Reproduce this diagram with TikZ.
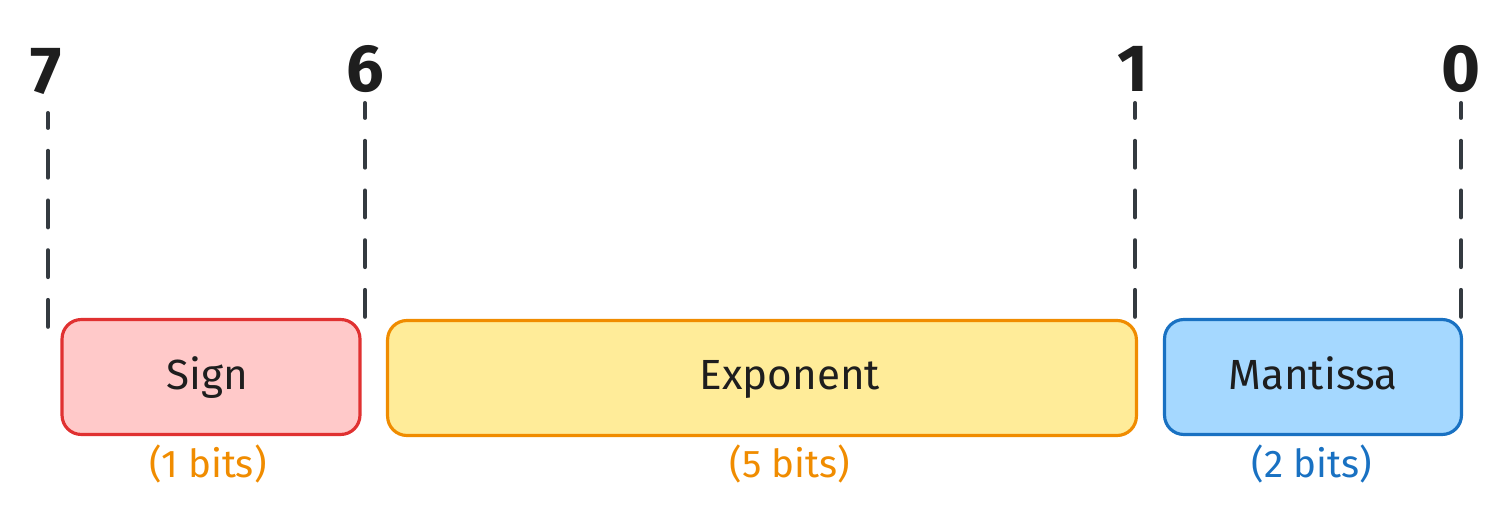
\documentclass[tikz,border=0pt]{standalone}
\usepackage{fontspec}
\setmainfont{Fira Sans}
\usetikzlibrary{positioning}

\definecolor{inkColor}{HTML}{1E1E1E}
\definecolor{tickColor}{HTML}{343A40}
\definecolor{signFill}{HTML}{FFC9C9}
\definecolor{signLine}{HTML}{E03131}
\definecolor{expFill}{HTML}{FFEC99}
\definecolor{expLine}{HTML}{F08C00}
\definecolor{mantFill}{HTML}{A5D8FF}
\definecolor{mantLine}{HTML}{1971C2}

\begin{document}
\begin{tikzpicture}[x=0.02cm, y=-0.02cm,
    bitnum/.style={text=inkColor, anchor=base, font=\fontsize{38}{40}\selectfont\bfseries},
    tick/.style={draw=tickColor, line width=2.3pt, line cap=round,
                 dash pattern=on 15.3pt off 13pt, dash phase=6.8pt},
    field/.style={line width=1.8pt, rounded corners=11pt, minimum height=2.3cm},
    fieldname/.style={text=inkColor, anchor=base, font=\fontsize{24}{26}\selectfont},
    bitcount/.style={anchor=base, font=\fontsize{22}{24}\selectfont}]
    \useasboundingbox (0,0) rectangle (1511,520);

    % Define the positions of the bit numbers
    \coordinate (7Pos) at (46, 94);
    \coordinate (6Pos) at (365, 92);
    \coordinate (1Pos) at (1133, 92);
    \coordinate (0Pos) at (1461, 92);

    % Draw the bit numbers
    \node[bitnum] (bit7) at (7Pos) {7};
    \node[bitnum] (bit6) at (6Pos) {6};
    \node[bitnum] (bit1) at (1Pos) {1};
    \node[bitnum] (bit0) at (0Pos) {0};

    % Draw the dashed ticks
    \coordinate (7Top) at (48, 113);   \coordinate (7Bot) at (48, 332);
    \coordinate (6Top) at (365, 103);  \coordinate (6Bot) at (365, 320);
    \coordinate (1Top) at (1135, 103); \coordinate (1Bot) at (1135, 320);
    \coordinate (0Top) at (1461, 103); \coordinate (0Bot) at (1461, 320);
    \draw[tick] (7Top) -- (7Bot);
    \draw[tick] (6Top) -- (6Bot);
    \draw[tick] (1Top) -- (1Bot);
    \draw[tick] (0Top) -- (0Bot);

    % Draw the fields
    \node[field, draw=signLine, fill=signFill, minimum width=5.96cm] (sign) at (211, 377) {};
    \node[field, draw=expLine, fill=expFill, minimum width=14.98cm] (exponent) at (762, 378) {};
    \node[field, draw=mantLine, fill=mantFill, minimum width=5.94cm] (mantissa) at (1313, 377) {};

    \node[fieldname] (signText) at (207, 389) {Sign};
    \node[fieldname] (expText) at (790, 389) {Exponent};
    \node[fieldname] (mantText) at (1313, 389) {Mantissa};

    % Draw the bit counts
    \node[bitcount, text=expLine] (signBits) at (208, 477) {(1 bits)};
    \node[bitcount, text=expLine] (expBits) at (790, 477) {(5 bits)};
    \node[bitcount, text=mantLine] (mantBits) at (1312, 477) {(2 bits)};
\end{tikzpicture}
\end{document}
